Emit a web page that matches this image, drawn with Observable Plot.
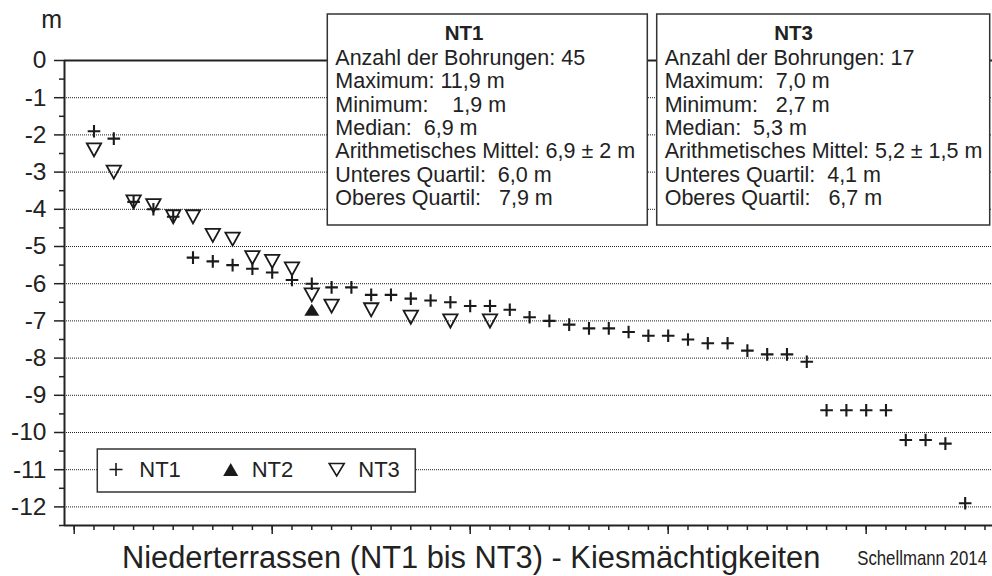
<!DOCTYPE html>
<html><head><meta charset="utf-8">
<script src="https://cdn.jsdelivr.net/npm/d3@7"></script>
<script src="https://cdn.jsdelivr.net/npm/@observablehq/plot@0.6"></script>
<style>
html,body{margin:0;padding:0;background:#fff;}
#wrap{position:relative;width:992px;height:576px;overflow:hidden;font-family:"Liberation Sans",Arial,sans-serif;}
#wrap > svg{position:absolute;left:0;top:0;}
</style></head><body><div id="wrap"></div>
<script>
// ---- data (thickness of gravel, m below surface; x = borehole rank) ----
const nt1Number = [1,2,3,4,5,6,7,8,9,10,11,12,13,14,15,16,17,18,19,20,21,22,23,24,25,26,27,28,29,30,31,32,33,34,35,36,37,38,39,40,41,42,43,44,45];
const nt1Depth  = [-1.9,-2.1,-3.8,-4.0,-4.2,-5.3,-5.4,-5.5,-5.6,-5.7,-5.9,-6.0,-6.1,-6.1,-6.3,-6.3,-6.4,-6.45,-6.5,-6.6,-6.6,-6.7,-6.9,-7.0,-7.1,-7.2,-7.2,-7.3,-7.4,-7.4,-7.5,-7.6,-7.6,-7.8,-7.9,-7.9,-8.1,-9.4,-9.4,-9.4,-9.4,-10.2,-10.2,-10.3,-11.9];
const nt2Number = [12];
const nt2Depth  = [-6.7];
const nt3Number = [1,2,3,4,5,6,7,8,9,10,11,12,13,15,17,19,21];
const nt3Depth  = [-2.4,-3.0,-3.8,-3.9,-4.2,-4.2,-4.7,-4.8,-5.3,-5.4,-5.6,-6.3,-6.6,-6.7,-6.9,-7.0,-7.0];

const yTicks      = [0,-1,-2,-3,-4,-5,-6,-7,-8,-9,-10,-11,-12];
const yGridTicks  = [-1,-2,-3,-4,-5,-6,-7,-8,-9,-10,-11,-12];
const yMinorTicks = [-0.5,-1.5,-2.5,-3.5,-4.5,-5.5,-6.5,-7.5,-8.5,-9.5,-10.5,-11.5,-12.5];
const xMajorTicks = [0,10,20,30,40];
const xMinorTicks = [0,1,2,3,4,5,6,7,8,9,10,11,12,13,14,15,16,17,18,19,20,21,22,23,24,25,26,27,28,29,30,31,32,33,34,35,36,37,38,39,40,41,42,43,44,45,46];
const xDomain = [-0.49, 46.38];
const yDomain = [-12.5, 0];

const seriesNames = ["NT1","NT2","NT3"];
const nt1Stats = ["Anzahl der Bohrungen: 45","Maximum: 11,9 m","Minimum:    1,9 m","Median:  6,9 m","Arithmetisches Mittel: 6,9 ± 2 m","Unteres Quartil:  6,0 m","Oberes Quartil:   7,9 m"];
const nt3Stats = ["Anzahl der Bohrungen: 17","Maximum:  7,0 m","Minimum:   2,7 m","Median:  5,3 m","Arithmetisches Mittel: 5,2 ± 1,5 m","Unteres Quartil:  4,1 m","Oberes Quartil:   6,7 m"];
const titleText = "Niederterrassen (NT1 bis NT3) - Kiesmächtigkeiten";
const creditText = "Schellmann 2014";
const unitText = "m";

// ---- tables ----
const nt1 = nt1Number.map((n,i) => ({n, d: nt1Depth[i]}));
const nt2 = nt2Number.map((n,i) => ({n, d: nt2Depth[i]}));
const nt3 = nt3Number.map((n,i) => ({n, d: nt3Depth[i]}));

// ---- custom symbols (bbox-centred like the original markers) ----
const rad = size => Math.sqrt(size / Math.PI);
const plusSym = {draw(c, s){ const r = rad(s); c.moveTo(-r,0); c.lineTo(r,0); c.moveTo(0,-r); c.lineTo(0,r); }};
const triDown = {draw(c, s){ const r = rad(s); c.moveTo(-r,-0.9*r); c.lineTo(r,-0.9*r); c.lineTo(0,0.92*r); c.closePath(); }};
const triUp   = {draw(c, s){ const r = rad(s); c.moveTo(0,-0.8*r); c.lineTo(r,0.8*r); c.lineTo(-r,0.8*r); c.closePath(); }};

const ink = "#222";
const chart = Plot.plot({
  width: 992, height: 576,
  marginLeft: 64, marginRight: 0, marginTop: 60, marginBottom: 51,
  x: {domain: xDomain, axis: null},
  y: {domain: yDomain, axis: null},
  style: {fontFamily: '"Liberation Sans", Arial, sans-serif', color: ink, background: "transparent", overflow: "visible"},
  marks: [
    Plot.gridY({ticks: yGridTicks, stroke: "#222", strokeOpacity: 1, strokeWidth: 1, strokeDasharray: "1,1"}),
    Plot.ruleY([0], {stroke: ink, strokeWidth: 2}),
    Plot.ruleY([yDomain[0]], {stroke: ink, strokeWidth: 2}),
    Plot.ruleX([xDomain[0]], {stroke: ink, strokeWidth: 2}),
    Plot.axisY({ticks: yMinorTicks, tickSize: 5, tickFormat: () => "", label: null, strokeWidth: 1.5}),
    Plot.axisY({ticks: yTicks, tickSize: 10, tickPadding: 8, tickFormat: d => String(d), label: null, fontSize: 24.5, strokeWidth: 1.5}),
    Plot.axisX({ticks: xMinorTicks, tickSize: 5, tickFormat: () => "", label: null, strokeWidth: 1.5}),
    Plot.axisX({ticks: xMajorTicks, tickSize: 9, tickFormat: () => "", label: null, strokeWidth: 1.5}),
    Plot.dot(nt3, {x: "n", y: "d", symbol: triDown, r: 7.2, fill: "none", stroke: "#1a1a1a", strokeWidth: 1.8}),
    Plot.dot(nt2, {x: "n", y: "d", symbol: triUp, r: 7.5, fill: "#1a1a1a", stroke: "none"}),
    Plot.dot(nt1, {x: "n", y: "d", symbol: plusSym, r: 6.3, fill: "none", stroke: "#1a1a1a", strokeWidth: 2.1})
  ]
});
document.getElementById("wrap").appendChild(chart);

// ---- annotation overlay: stat boxes, legend, titles ----
const ov = d3.select("#wrap").append("svg")
  .attr("width", 992).attr("height", 576)
  .style("font-family", '"Liberation Sans", Arial, sans-serif');

ov.append("text").attr("x", 51.7).attr("y", 28).attr("text-anchor", "middle")
  .attr("font-size", 25).attr("fill", ink).text(unitText);

function statBox(x, w, name, lines){
  const g = ov.append("g");
  g.append("rect").attr("x", x).attr("y", 14).attr("width", w).attr("height", 211)
    .attr("fill", "#fff").attr("stroke", "#333").attr("stroke-width", 1.5);
  g.append("text").attr("x", x + 117.5).attr("y", 40).attr("font-size", 20.5)
    .attr("font-weight", "bold").attr("fill", ink).text(name);
  g.selectAll("text.l").data(lines).join("text").attr("class", "l")
    .attr("x", x + 8).attr("y", (d,i) => 65 + i*23.35)
    .attr("font-size", 21.5).attr("fill", ink).style("white-space", "pre").text(d => d);
}
statBox(327.3, 320, seriesNames[0], nt1Stats);
statBox(656.7, 333, seriesNames[2], nt3Stats);

// legend
const lg = ov.append("g");
lg.append("rect").attr("x", 97.3).attr("y", 449).attr("width", 318).attr("height", 43)
  .attr("fill", "#fff").attr("stroke", "#333").attr("stroke-width", 1.5);
const legendItems = [
  {name: seriesNames[0], cx: 116, tx: 139.3, path: "M-6.5,0H6.5M0,-6.5V6.5", fill: "none", stroke: "#1a1a1a"},
  {name: seriesNames[1], cx: 230.7, tx: 251.7, path: "M0,-6.5L7.5,6.5L-7.5,6.5Z", fill: "#1a1a1a", stroke: "none"},
  {name: seriesNames[2], cx: 336.7, tx: 358.3, path: "M-7.5,-6L7.5,-6L0,6.5Z", fill: "none", stroke: "#1a1a1a"}
];
legendItems.forEach(it => {
  lg.append("path").attr("d", it.path).attr("transform", `translate(${it.cx},469.5)`)
    .attr("fill", it.fill).attr("stroke", it.stroke).attr("stroke-width", 1.6);
  lg.append("text").attr("x", it.tx).attr("y", 476.7).attr("font-size", 22).attr("fill", ink).text(it.name);
});

ov.append("text").attr("x", 122).attr("y", 567.5).attr("font-size", 30.8).attr("fill", ink).text(titleText);
ov.append("text").attr("transform", "translate(987,565) scale(0.82,1)").attr("text-anchor", "end")
  .attr("font-size", 20.5).attr("fill", ink).text(creditText);
</script></body></html>
